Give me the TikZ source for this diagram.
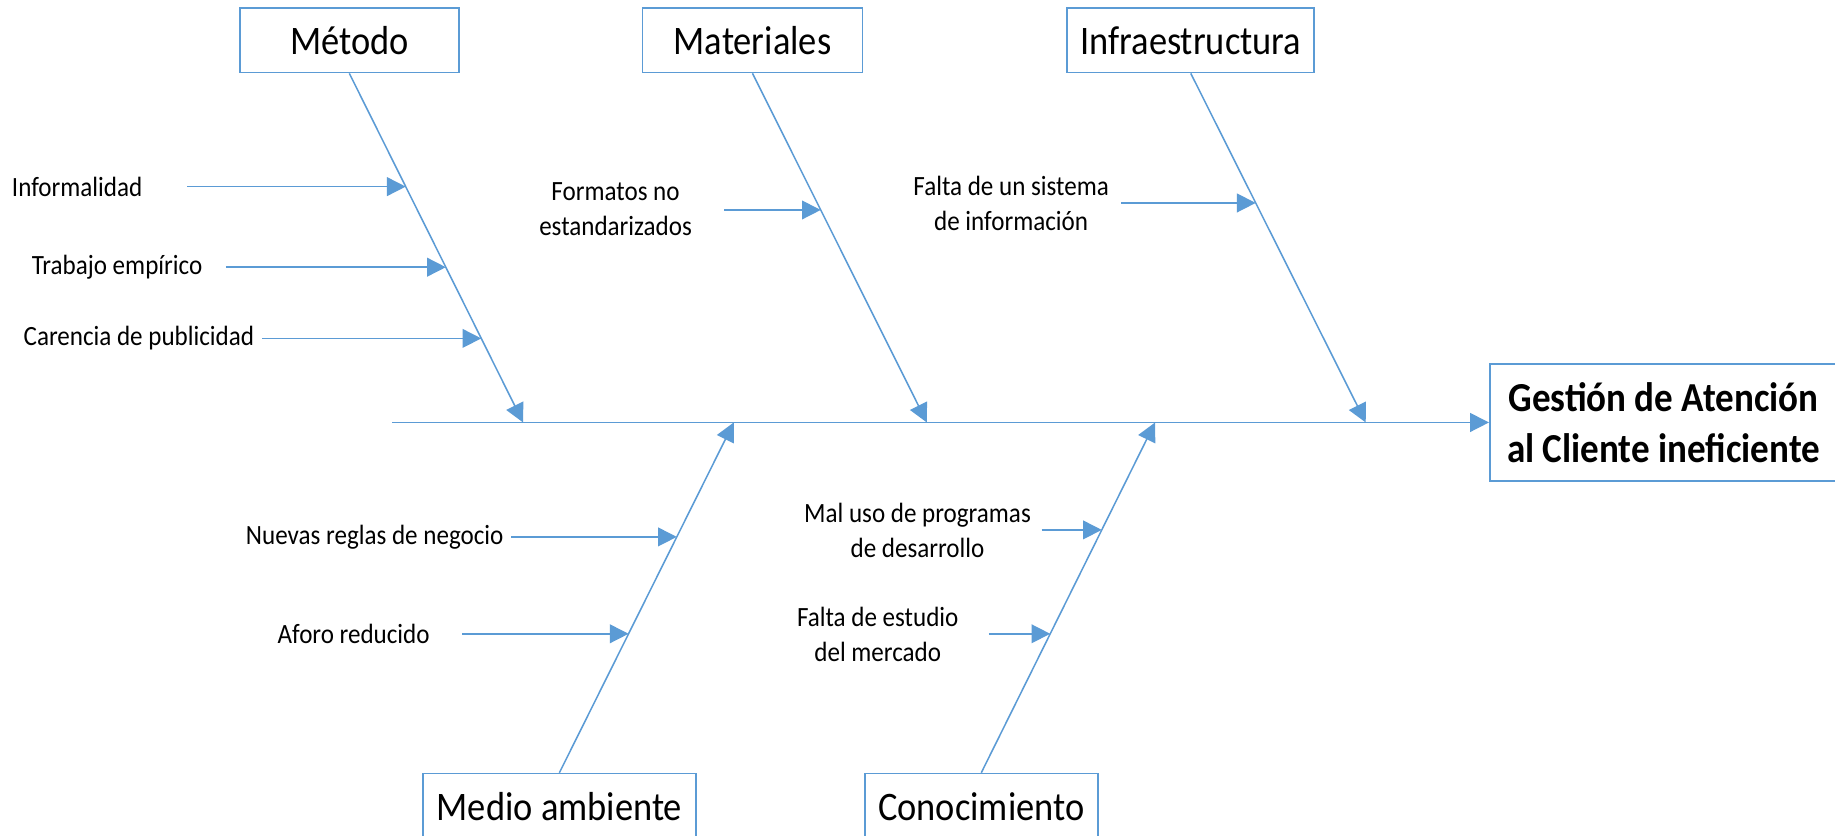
\documentclass[tikz,border=0pt]{standalone}
\usepackage{fontspec}
\setmainfont{Carlito}[FakeStretch=0.9]
\usetikzlibrary{arrows.meta,calc}
\definecolor{bl}{HTML}{5B9BD5}
\begin{document}
\begin{tikzpicture}[x=1pt,y=-1pt,
  box/.style={draw=bl,line width=1.4pt,fill=white,inner sep=0pt,align=center,
    font=\fontsize{34.6}{44}\selectfont},
  bone/.style={draw=bl,line width=1.3pt,-{Triangle[length=16pt,width=16pt]}},
  lbl/.style={font=\fontsize{23.8}{30}\selectfont,inner sep=0pt,align=center},
]
\useasboundingbox[fill=white] (0,0) rectangle (1568,714);

% boxes
\node[box,minimum width=187pt,minimum height=55pt] (met) at (298.5,34.5) {Método};
\node[box,minimum width=188pt,minimum height=55pt] (mat) at (643,34.5) {Materiales};
\node[box,minimum width=211pt,minimum height=55pt] (inf) at (1017.5,34.5) {Infraestructura};
\node[box,minimum width=233pt,minimum height=56pt] (med) at (478,689) {Medio ambiente};
\node[box,minimum width=199pt,minimum height=56pt] (con) at (838.5,689) {Conocimiento};
\node[box,minimum width=297pt,minimum height=100pt,font=\bfseries\fontsize{35.2}{44}\selectfont] (eff) at (1421.5,361) {Gestión de Atención\\al Cliente ineficiente};

% spine
\coordinate (s0) at (335,361);
\coordinate (t1) at (447,361);
\coordinate (t2) at (792,361);
\coordinate (t3) at (1167,361);
\coordinate (b1) at (627,361);
\coordinate (b2) at (987,361);
\draw[bone] (s0) -- (eff.west);

% main bones
\draw[bone] (met.south) -- (t1);
\draw[bone] (mat.south) -- (t2);
\draw[bone] (inf.south) -- (t3);
\draw[bone] (med.north) -- (b1);
\draw[bone] (con.north) -- (b2);

% tips on bones
\coordinate (pI) at ($(met.south)!0.3244!(t1)$);
\coordinate (pT) at ($(met.south)!0.5552!(t1)$);
\coordinate (pC) at ($(met.south)!0.7592!(t1)$);
\coordinate (pF) at ($(mat.south)!0.3913!(t2)$);
\coordinate (pS) at ($(inf.south)!0.3712!(t3)$);
\coordinate (pN) at ($(med.north)!0.6733!(b1)$);
\coordinate (pA) at ($(med.north)!0.3967!(b1)$);
\coordinate (pM) at ($(con.north)!0.6933!(b2)$);
\coordinate (pE) at ($(con.north)!0.3967!(b2)$);

% starts
\coordinate (sI) at (160,0);
\coordinate (sT) at (193,0);
\coordinate (sC) at (224,0);
\coordinate (sF) at (619,0);
\coordinate (sS) at (958,0);
\coordinate (sN) at (437,0);
\coordinate (sA) at (395,0);
\coordinate (sM) at (890,0);
\coordinate (sE) at (845,0);

\draw[bone] (sI |- pI) -- (pI);
\draw[bone] (sT |- pT) -- (pT);
\draw[bone] (sC |- pC) -- (pC);
\draw[bone] (sF |- pF) -- (pF);
\draw[bone] (sS |- pS) -- (pS);
\draw[bone] (sN |- pN) -- (pN);
\draw[bone] (sA |- pA) -- (pA);
\draw[bone] (sM |- pM) -- (pM);
\draw[bone] (sE |- pE) -- (pE);

% labels
\node[lbl,anchor=west] (lI) at (10,160) {Informalidad};
\node[lbl,anchor=west] (lT) at (27,228) {Trabajo empírico};
\node[lbl,anchor=west] (lC) at (20,289) {Carencia de publicidad};
\node[lbl] (lF) at (526,179) {Formatos no\\estandarizados};
\node[lbl] (lS) at (864,174) {Falta de un sistema\\de información};
\node[lbl,anchor=west] (lN) at (210,459) {Nuevas reglas de negocio};
\node[lbl,anchor=west] (lA) at (237,542) {Aforo reducido};
\node[lbl] (lM) at (784,453) {Mal uso de programas\\de desarrollo};
\node[lbl] (lE) at (750,542) {Falta de estudio\\del mercado};
\end{tikzpicture}
\end{document}
